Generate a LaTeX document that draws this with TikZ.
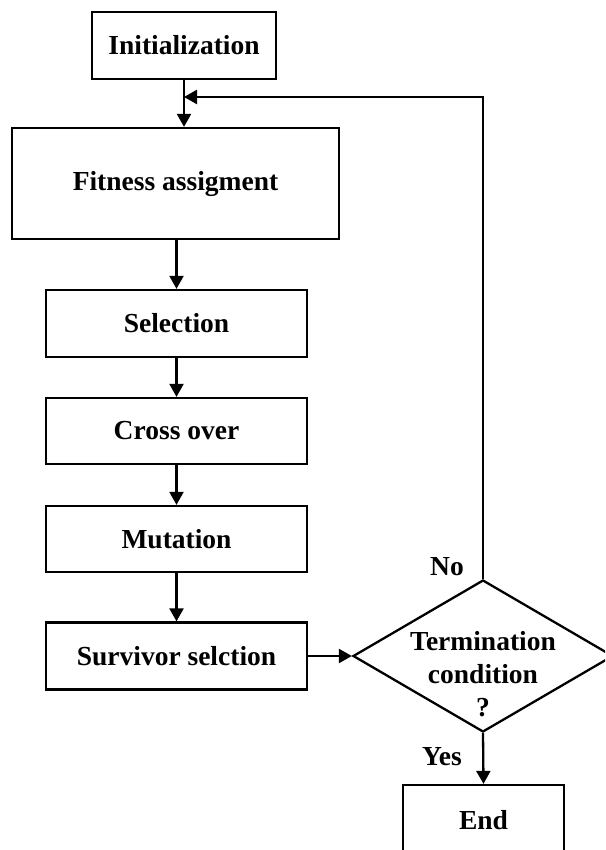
\documentclass[tikz,border=0pt]{standalone}
\usepackage{fontspec}
\setmainfont{Liberation Serif}
\usetikzlibrary{shapes.geometric,arrows.meta}
\tikzset{
  box/.style={draw, line width=2.3pt, rectangle, inner sep=0pt, font=\bfseries\fontsize{27.5}{33}\selectfont},
  lbl/.style={inner sep=0pt, font=\bfseries\fontsize{27.5}{33}\selectfont},
  conn/.style={line width=2.3pt, -{Triangle[length=13pt,width=14pt]}},
  plain/.style={line width=2.3pt}
}
\begin{document}
\begin{tikzpicture}[x=1pt,y=-1pt]
\useasboundingbox (0,0) rectangle (605,850);
\clip (0,0) rectangle (605,850);
\node[box, minimum width=184pt, minimum height=67pt] (init) at (184,45.5) {Initialization};
\node[box, minimum width=327pt, minimum height=111pt] (fit) at (175.5,183.5) {\raisebox{-3pt}{Fitness assigment}};
\node[box, minimum width=261pt, minimum height=67pt] (sel) at (176.5,323.5) {Selection};
\node[box, minimum width=261pt, minimum height=66pt] (cross) at (176.5,431) {Cross over};
\node[box, minimum width=261pt, minimum height=66pt] (mut) at (176.5,539) {Mutation};
\node[box, minimum width=261pt, minimum height=67pt] (surv) at (176.5,656) {Survivor selction};
\node[draw, line width=2.3pt, diamond, minimum width=260pt, minimum height=152pt, inner sep=0pt] (dec) at (483,656) {};
\node[lbl, align=center] (dectext) at (483,674) {Termination\\condition\\?};
\node[box, minimum width=161pt, minimum height=100pt] (end) at (483.5,835) {};
\node[lbl] (endtext) at (483.5,820) {End};
\node[lbl] (no) at (447,567) {No};
\node[lbl] (yes) at (442,757) {Yes};
\coordinate (join) at (184,97);
\coordinate (corner) at (483,97);
\draw[conn] (init.south) -- (init.south |- fit.north);
\draw[conn] (fit.south -| sel.north) -- (sel.north);
\draw[conn] (sel.south) -- (cross.north);
\draw[conn] (cross.south) -- (mut.north);
\draw[conn] (mut.south) -- (surv.north);
\draw[conn] (surv.east) -- (dec.west);
\draw[conn] (dec.north) -- (corner) -- (join);
\draw[conn] (dec.south) -- (end.north);
\end{tikzpicture}
\end{document}
